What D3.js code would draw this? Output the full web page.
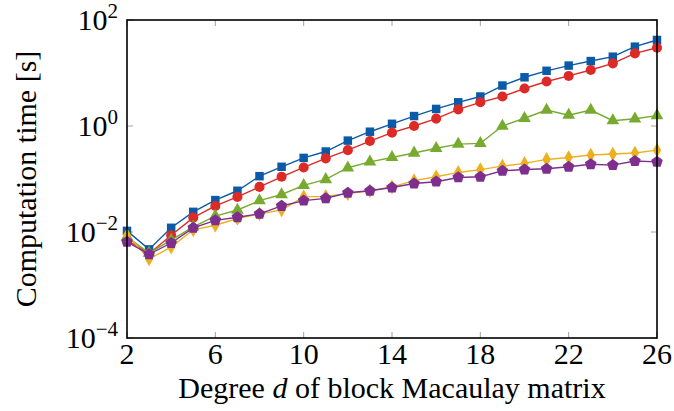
<!DOCTYPE html>
<html>
<head>
<meta charset="utf-8">
<script src="https://cdn.jsdelivr.net/npm/d3@7"></script>
<style>
  body { margin: 0; background: #fff; }
  text { font-family: "Liberation Serif", "DejaVu Serif", serif; fill: #000; }
</style>
</head>
<body>
<svg width="674" height="411"></svg>
<script>
const degrees = d3.range(2, 27);

const blueSq = [0.0105, 0.0047, 0.012, 0.024, 0.040, 0.060, 0.113, 0.17, 0.25, 0.33, 0.53, 0.78, 1.1,
  1.54, 2.1, 2.8, 3.6, 5.8, 8.3, 11, 13.8, 16.8, 20.3, 31.4, 42];
const redCirc = [0.0070, 0.0039, 0.0087, 0.0187, 0.031, 0.046, 0.071, 0.11, 0.165, 0.245, 0.35, 0.52, 0.75,
  1.0, 1.38, 2.06, 2.8, 3.6, 5.1, 6.9, 8.8, 11.4, 15.2, 23.5, 30];
const greenTri = [0.0081, 0.0040, 0.0070, 0.0125, 0.020, 0.026, 0.039, 0.051, 0.076, 0.098, 0.163, 0.21, 0.255,
  0.31, 0.38, 0.456, 0.47, 1.0, 1.4, 2.0, 1.6, 2.0, 1.26, 1.37, 1.57];
const yellowDia = [0.0087, 0.0031, 0.0052, 0.011, 0.0134, 0.018, 0.022, 0.026, 0.046, 0.047, 0.053, 0.060, 0.071,
  0.093, 0.11, 0.133, 0.15, 0.175, 0.197, 0.234, 0.255, 0.283, 0.296, 0.31, 0.35];
const purplePent = [0.0065, 0.0038, 0.0062, 0.012, 0.0166, 0.019, 0.022, 0.031, 0.039, 0.043, 0.055, 0.060, 0.069,
  0.082, 0.089, 0.107, 0.11, 0.143, 0.151, 0.156, 0.17, 0.19, 0.183, 0.218, 0.21];

const xTicks = [2, 6, 10, 14, 18, 22, 26];
const yTicks = [-4, -2, 0, 2];

const svg = d3.select("svg");
const width = +svg.attr("width");
const height = +svg.attr("height");
const margin = {top: 20, right: 17, bottom: 73, left: 127};
const fontSize = 30;

const x = d3.scaleLinear().domain([2, 26]).range([margin.left, width - margin.right]);
const y = d3.scaleLog().domain([1e-4, 1e2]).range([height - margin.bottom, margin.top]);

// pentagon symbol
const pentagon = {
  draw(context, size) {
    const r = Math.sqrt(size / 2.378);
    for (let i = 0; i < 5; i++) {
      const a = -Math.PI / 2 + i * 2 * Math.PI / 5;
      const px = r * Math.cos(a), py = r * Math.sin(a);
      if (i === 0) context.moveTo(px, py); else context.lineTo(px, py);
    }
    context.closePath();
  }
};

const series = [
  {values: blueSq, color: "#0b5aa8", symbol: d3.symbolSquare, size: 72},
  {values: redCirc, color: "#dc2b27", symbol: d3.symbolCircle, size: 80},
  {values: greenTri, color: "#77ab30", symbol: d3.symbolTriangle, size: 70},
  {values: yellowDia, color: "#edb120", symbol: d3.symbolDiamond, size: 62},
  {values: purplePent, color: "#7e2f8e", symbol: pentagon, size: 88}
];

// ticks (inside, gray)
const tickG = svg.append("g").attr("stroke", "#a0a0a0").attr("stroke-width", 1);
xTicks.forEach(t => {
  tickG.append("line").attr("x1", x(t)).attr("x2", x(t))
    .attr("y1", y(1e-4)).attr("y2", y(1e-4) - 6);
  tickG.append("line").attr("x1", x(t)).attr("x2", x(t))
    .attr("y1", y(1e2)).attr("y2", y(1e2) + 6);
});
yTicks.forEach(t => {
  tickG.append("line").attr("x1", x(2)).attr("x2", x(2) + 6)
    .attr("y1", y(Math.pow(10, t))).attr("y2", y(Math.pow(10, t)));
  tickG.append("line").attr("x1", x(26)).attr("x2", x(26) - 6)
    .attr("y1", y(Math.pow(10, t))).attr("y2", y(Math.pow(10, t)));
});

const line = d3.line()
  .x((d, i) => x(degrees[i]))
  .y(d => y(d));

series.forEach(s => {
  svg.append("path")
    .datum(s.values)
    .attr("fill", "none")
    .attr("stroke", s.color)
    .attr("stroke-width", 1.4)
    .attr("d", line);
  svg.append("g").selectAll("path")
    .data(s.values)
    .join("path")
    .attr("transform", (d, i) => `translate(${x(degrees[i])},${y(d)})`)
    .attr("d", d3.symbol(s.symbol, s.size))
    .attr("fill", s.color);
});

// frame
svg.append("rect")
  .attr("x", x(2)).attr("y", y(1e2))
  .attr("width", x(26) - x(2)).attr("height", y(1e-4) - y(1e2))
  .attr("fill", "none").attr("stroke", "#000").attr("stroke-width", 1.6);

// x tick labels
svg.append("g").selectAll("text")
  .data(xTicks)
  .join("text")
  .attr("x", d => x(d))
  .attr("y", y(1e-4) + 26)
  .attr("text-anchor", "middle")
  .attr("font-size", fontSize)
  .text(d => d);

// y tick labels
const yl = svg.append("g").selectAll("text")
  .data(yTicks)
  .join("text")
  .attr("x", x(2) - 9)
  .attr("y", d => y(Math.pow(10, d)) + 10)
  .attr("text-anchor", "end")
  .attr("font-size", fontSize);
yl.append("tspan").text("10");
yl.append("tspan")
  .attr("dy", -12)
  .attr("font-size", 21)
  .text(d => (d < 0 ? "\u2212" + (-d) : d));

// axis labels
const xl = svg.append("text")
  .attr("x", (x(2) + x(26)) / 2)
  .attr("y", 398)
  .attr("text-anchor", "middle")
  .attr("font-size", fontSize);
xl.append("tspan").text("Degree ");
xl.append("tspan").attr("font-style", "italic").text("d");
xl.append("tspan").text(" of block Macaulay matrix");

svg.append("text")
  .attr("transform", `translate(36, ${(y(1e-4) + y(1e2)) / 2}) rotate(-90)`)
  .attr("text-anchor", "middle")
  .attr("font-size", fontSize)
  .text("Computation time [s]");
</script>
</body>
</html>
